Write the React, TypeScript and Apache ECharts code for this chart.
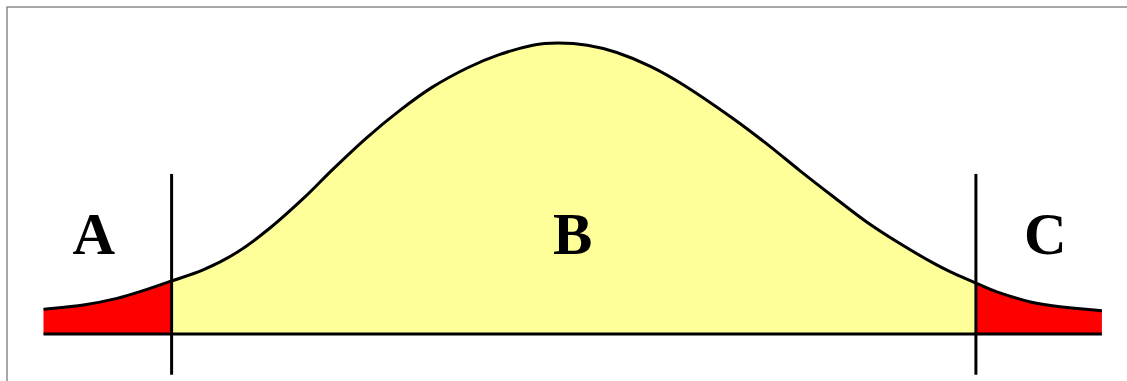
import React, { useEffect, useRef } from "react";
import * as echarts from "echarts";

// Curve readings (x in standard units, y as density)
const CURVE_X = [
  -2.45, -2.26, -2.1, -1.94, -1.84, -1.69, -1.53, -1.37, -1.21, -1.07, -0.91,
  -0.75, -0.6, -0.43, -0.28, -0.12, 0, 0.14, 0.28, 0.44, 0.6, 0.83, 1.0, 1.15,
  1.31, 1.47, 1.63, 1.79, 1.88, 1.99, 2.09, 2.25, 2.4, 2.59,
];
const CURVE_Y = [
  0.034, 0.04, 0.049, 0.063, 0.073, 0.088, 0.112, 0.146, 0.187, 0.227, 0.27,
  0.308, 0.339, 0.366, 0.384, 0.397, 0.4, 0.397, 0.387, 0.368, 0.342, 0.297,
  0.26, 0.225, 0.189, 0.154, 0.124, 0.097, 0.084, 0.07, 0.058, 0.044, 0.037,
  0.032,
];

const LEFT_CUT = -1.84;
const RIGHT_CUT = 1.99;
const CUT_TOP = 0.22;
const CUT_BOTTOM = -0.056;

const LABELS = ["A", "B", "C"];
const LABEL_X = [-2.21, 0.07, 2.32];
const LABEL_Y = [0.138, 0.138, 0.138];

const TAIL_COLOR = "#ff0000";
const BODY_COLOR = "#ffff99";

const App: React.FC = () => {
  const ref = useRef<HTMLDivElement>(null);

  useEffect(() => {
    if (!ref.current) return;
    const chart = echarts.init(ref.current, undefined, { renderer: "svg" });
    const xFirst = CURVE_X[0];
    const xLast = CURVE_X[CURVE_X.length - 1];
    const iLeft = CURVE_X.indexOf(LEFT_CUT);
    const iRight = CURVE_X.indexOf(RIGHT_CUT);

    const renderCurve = (_params: any, api: any) => {
      const P = CURVE_X.map((x, i) => api.coord([x, CURVE_Y[i]]) as number[]);
      const baseY = api.coord([0, 0])[1];
      const n = P.length;
      const seg = (i: number) => {
        const p0 = P[Math.max(i - 1, 0)];
        const p1 = P[i];
        const p2 = P[i + 1];
        const p3 = P[Math.min(i + 2, n - 1)];
        const c1 = [p1[0] + (p2[0] - p0[0]) / 6, p1[1] + (p2[1] - p0[1]) / 6];
        const c2 = [p2[0] - (p3[0] - p1[0]) / 6, p2[1] - (p3[1] - p1[1]) / 6];
        return `C${c1[0]},${c1[1]} ${c2[0]},${c2[1]} ${p2[0]},${p2[1]}`;
      };
      const curve = (a: number, b: number) => {
        let d = `M${P[a][0]},${P[a][1]}`;
        for (let i = a; i < b; i++) d += " " + seg(i);
        return d;
      };
      const area = (a: number, b: number) =>
        curve(a, b) + ` L${P[b][0]},${baseY} L${P[a][0]},${baseY} Z`;
      return {
        type: "group",
        children: [
          {
            type: "path",
            shape: { pathData: area(0, iLeft) },
            style: { fill: TAIL_COLOR, stroke: "none" },
          },
          {
            type: "path",
            shape: { pathData: area(iLeft, iRight) },
            style: { fill: BODY_COLOR, stroke: "none" },
          },
          {
            type: "path",
            shape: { pathData: area(iRight, n - 1) },
            style: { fill: TAIL_COLOR, stroke: "none" },
          },
          {
            type: "path",
            shape: { pathData: curve(0, n - 1) },
            style: { fill: "none", stroke: "#000000", lineWidth: 3 },
          },
        ],
      };
    };

    const blackLine = (data: number[][], z: number) => ({
      type: "line",
      data,
      showSymbol: false,
      symbol: "none",
      lineStyle: { width: 3, color: "#000000" },
      z,
      clip: false,
      silent: true,
    });

    chart.setOption({
      animation: false,
      backgroundColor: "#ffffff",
      grid: { left: 33, right: 2, top: 43, bottom: 47 },
      xAxis: { type: "value", min: -2.5, max: 2.7, show: false },
      yAxis: { type: "value", min: 0, max: 0.4, show: false },
      graphic: [
        {
          type: "rect",
          shape: { x: 7, y: 7, width: 1140, height: 400 },
          style: { fill: "none", stroke: "#8c8c8c", lineWidth: 1.5 },
          silent: true,
        },
      ],
      series: [
        {
          type: "custom",
          data: [[CURVE_X[0], CURVE_Y[0]]],
          renderItem: renderCurve,
          z: 2,
          silent: true,
        },
        blackLine(
          [
            [xFirst, 0],
            [xLast, 0],
          ],
          3
        ),
        blackLine(
          [
            [LEFT_CUT, CUT_BOTTOM],
            [LEFT_CUT, CUT_TOP],
          ],
          4
        ),
        blackLine(
          [
            [RIGHT_CUT, CUT_BOTTOM],
            [RIGHT_CUT, CUT_TOP],
          ],
          4
        ),
        {
          type: "scatter",
          data: LABELS.map((name, i) => ({
            name,
            value: [LABEL_X[i], LABEL_Y[i]],
          })),
          symbolSize: 0,
          itemStyle: { opacity: 1, color: "#000000" },
          z: 5,
          silent: true,
          label: {
            show: true,
            position: "inside",
            formatter: "{b}",
            fontSize: 59,
            fontWeight: "bold",
            fontFamily: "'Liberation Serif', 'Times New Roman', serif",
            color: "#000000",
            opacity: 1,
            textBorderWidth: 0,
          },
        },
      ],
    });

    return () => {
      chart.dispose();
    };
  }, []);

  return (
    <div
      ref={ref}
      style={{ position: "fixed", left: 0, top: 0, width: 1127, height: 381 }}
    />
  );
};

export default App;
